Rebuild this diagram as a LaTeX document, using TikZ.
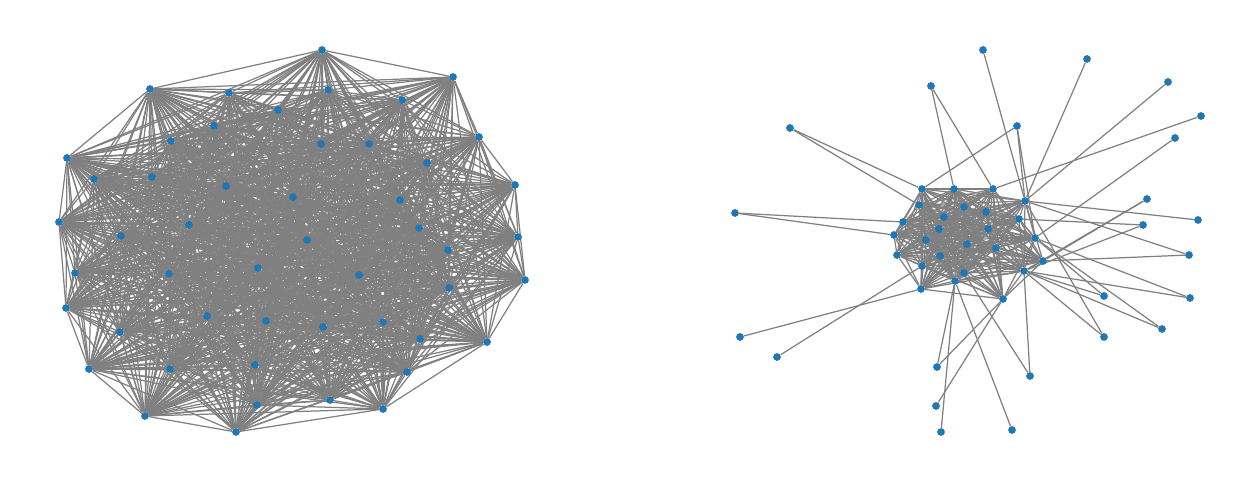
\documentclass[tikz,border=0pt]{standalone}
\definecolor{dotblue}{HTML}{1F77B4}
\definecolor{edgegray}{HTML}{808080}
\pgfdeclarelayer{bg}
\pgfsetlayers{bg,main}
\tikzset{
  dot/.style={circle,fill=dotblue,draw=none,inner sep=0pt,minimum size=0.155cm},
  edge/.style={draw=edgegray,line width=0.7pt}
}
\begin{document}
\begin{tikzpicture}[x=0.02cm,y=-0.02cm]
\useasboundingbox (0,0) rectangle (1259,482);
% left graph nodes
\foreach \x/\y [count=\i] in {322/50,453/77,150/89,229/93,328/90,402/100,278/110,214/126,171/141,321/144,369/144,479/137,67/158,427/163,94/179,152/177,226/186,515/185,293/197,400/200,59/222,189/225,419/228,121/236,307/240,518/237,448/250,75/273,258/268,169/274,359/275,525/280,449/288,66/308,207/316,266/321,323/327,383/322,120/332,420/339,487/342,255/365,89/369,170/369,407/372,330/400,257/405,383/409,145/416,236/432}
  \node[dot] (L\i) at (\x,\y) {};
% right graph core nodes
\foreach \x/\y [count=\i] in {922/189,954/189,993/189,1025/201,919/205,964/207,986/212,944/217,1019/219,903/222,939/229,988/229,894/235,926/240,1035/238,967/244,996/248,897/255,940/256,1043/261,922/266,1024/271,964/273,955/281,921/289,1003/299}
  \node[dot] (C\i) at (\x,\y) {};
% right graph peripheral nodes
\foreach \x/\y [count=\i] in {983/50,1087/59,931/86,1168/82,1201/116,790/128,1017/126,1175/138,1147/199,735/213,1198/220,1143/225,1189/255,1190/298,1104/296,740/337,777/357,1104/337,1162/329,937/367,1030/376,936/406,1012/430,941/432}
  \node[dot] (P\i) at (\x,\y) {};
\begin{pgfonlayer}{bg}
% left graph edges (dense)
\foreach \i in {1,...,49}{
  \pgfmathtruncatemacro\k{\i+1}
  \foreach \j in {\k,...,50}{
    \pgfmathtruncatemacro\r{mod(\i*3+\j*5+\i*\j,12)}
    \ifnum\r=0\relax\else
      \draw[edge] (L\i) -- (L\j);
    \fi
  }
}
% right core edges
\foreach \i in {1,...,25}{
  \pgfmathtruncatemacro\k{\i+1}
  \foreach \j in {\k,...,26}{
    \pgfmathtruncatemacro\r{mod(\i*7+\j*3+\i*\j,5)}
    \ifnum\r=0\relax\else
      \draw[edge] (C\i) -- (C\j);
    \fi
  }
}
% peripheral edges
\foreach \p/\c in {1/4,2/4,3/2,3/3,4/4,5/3,6/1,6/5,7/1,7/4,7/15,8/15,9/20,9/22,10/10,10/13,11/4,12/9,12/22,13/20,13/4,14/22,14/15,15/15,15/22,16/25,17/21,18/4,18/22,19/22,19/15,20/24,20/26,21/22,21/23,22/26,23/24,24/24}
  \draw[edge] (P\p) -- (C\c);
\end{pgfonlayer}
\end{tikzpicture}
\end{document}
